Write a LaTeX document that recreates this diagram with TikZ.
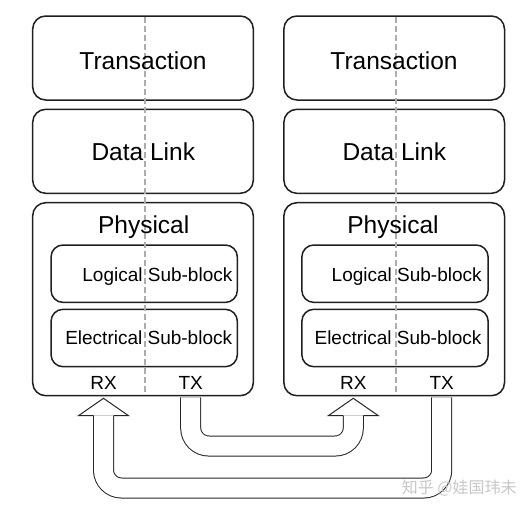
\documentclass[tikz,border=0pt]{standalone}
\usepackage{fontspec}
\setmainfont{Liberation Sans}
\newfontfamily\cjkfont{Noto Sans CJK SC}
\usepackage{tikz}
\usepackage{xcolor}
\usetikzlibrary{calc}

\tikzset{
 layerbox/.style={draw=black!88, line width=1.5pt, rounded corners=13pt, minimum width=220.6pt, inner sep=0pt},
 subbox/.style={draw=black!88, line width=1.5pt, rounded corners=12pt, minimum width=186.3pt, minimum height=57.4pt, inner sep=0pt},
 bigtxt/.style={anchor=base, font=\fontsize{24.5}{28}\selectfont, inner sep=0pt},
 smalltxt/.style={anchor=base, font=\fontsize{19}{22}\selectfont, inner sep=0pt},
 split/.style={draw=black!32, line width=2pt, dash pattern=on 6pt off 3pt},
 pipe/.style={draw=black!85, line width=1pt, double=white, double distance=19pt, rounded corners=18pt},
 headline/.style={draw=black!85, line width=1pt, line join=miter}
}

\begin{document}
\begin{tikzpicture}[x=1pt,y=-1pt]
 \useasboundingbox (0,0) rectangle (528,512);
 % left stack
 \node[layerbox, minimum height=84pt] (tr1) at (143,58) {};
 \node[layerbox, minimum height=84pt] (dl1) at (143,151.3) {};
 \node[layerbox, minimum height=193pt] (ph1) at (143,299.2) {};
 \node[subbox] (lg1) at (144.2,273.7) {};
 \node[subbox] (el1) at (144.2,338) {};
 \draw[split] (145.3,17) -- (145.3,392);
 \node[bigtxt] (trt1) at (143,69.5) {Transaction};
 \node[bigtxt] (dlt1) at (143.3,160) {Data Link};
 \node[bigtxt] (pht1) at (143.7,233.5) {Physical};
 \node[smalltxt] (lgt1) at (157.4,281.7) {Logical Sub-block};
 \node[smalltxt] (elt1) at (148.7,344) {Electrical Sub-block};
 \node[smalltxt] (rx1) at (103.5,389.3) {RX};
 \node[smalltxt] (tx1) at (190.7,389.3) {TX};
 % right stack
 \node[layerbox, minimum height=84pt] (tr2) at (394.2,58) {};
 \node[layerbox, minimum height=84pt] (dl2) at (394.2,151.3) {};
 \node[layerbox, minimum height=193pt] (ph2) at (394.2,299.2) {};
 \node[subbox] (lg2) at (395,273.7) {};
 \node[subbox] (el2) at (395,338) {};
 \draw[split] (395.7,17) -- (395.7,392);
 \node[bigtxt] (trt2) at (394,69.5) {Transaction};
 \node[bigtxt] (dlt2) at (394.3,160) {Data Link};
 \node[bigtxt] (pht2) at (393,233.5) {Physical};
 \node[smalltxt] (lgt2) at (406.7,281.7) {Logical Sub-block};
 \node[smalltxt] (elt2) at (398,344) {Electrical Sub-block};
 \node[smalltxt] (rx2) at (353.3,389.3) {RX};
 \node[smalltxt] (tx2) at (441.7,389.3) {TX};
 % links TX -> RX
 \coordinate (turn1) at (0,446);
 \coordinate (turn2) at (0,488);
 \coordinate (base) at (0,415.7);
 \draw[pipe] ($(tx1 |- ph1.south)+(0,0.8)$) -- (tx1 |- turn1) -- (rx2 |- turn1) -- (rx2 |- base);
 \draw[headline] ($(rx2 |- base)+(-10,0)$) -- ++(-15,0) -- ++(25,-17.4) -- ++(25,17.4) -- ++(-15,0);
 \draw[pipe] ($(tx2 |- ph2.south)+(0,0.8)$) -- (tx2 |- turn2) -- (rx1 |- turn2) -- (rx1 |- base);
 \draw[headline] ($(rx1 |- base)+(-10,0)$) -- ++(-15,0) -- ++(25,-17.4) -- ++(25,17.4) -- ++(-15,0);
 \node[text=black!22, font=\cjkfont\fontsize{16}{18}\selectfont, anchor=base west, inner sep=0pt] (wm) at (401.7,493) {知乎 @娃国玮未};
\end{tikzpicture}
\end{document}
